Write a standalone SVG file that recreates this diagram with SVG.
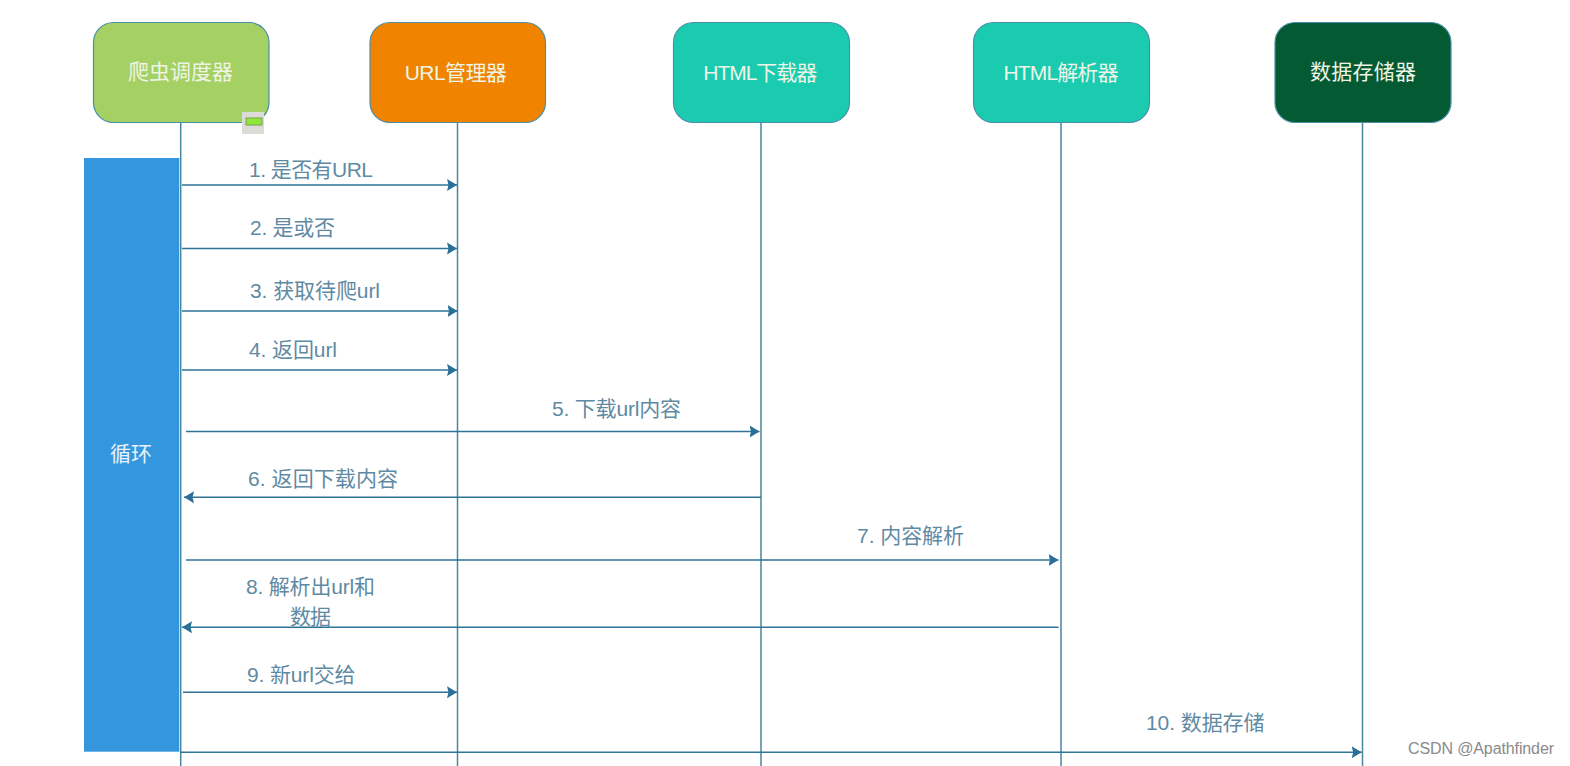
<svg xmlns="http://www.w3.org/2000/svg" width="1570" height="766" viewBox="0 0 1570 766">
<style>
text{font-family:"Liberation Sans","Noto Sans CJK SC",sans-serif}
.n{stroke:#4a8fa8;stroke-width:1.2}
.nt{fill:#eef5e6;font-size:21px;text-anchor:middle}
.life{stroke:#4a879f;stroke-width:1.5;fill:none}
.msg{stroke:#2f7396;stroke-width:1.5;fill:none;marker-end:url(#arr)}
.ml{fill:#5f8aa3;font-size:21px}
</style>
<defs><marker id="arr" markerUnits="userSpaceOnUse" markerWidth="11" markerHeight="14" refX="10" refY="7" orient="auto"><path d="M0 1L10 7L0 13L1.500 7Z" fill="#2a6f96"/></marker></defs>
<rect width="1570" height="766" fill="#fff"/>
<g id="connectors">
<path class="life" d="M180.700 122V766M457.500 122V766M761 122V766M1061 122V766M1362.500 122V766"/>
<path class="msg" d="M182 185H457"/>
<path class="msg" d="M182 248.500H457"/>
<path class="msg" d="M182 311H457.500"/>
<path class="msg" d="M182 370H457"/>
<path class="msg" d="M186 431.500H759.500"/>
<path class="msg" d="M761 497.300H184"/>
<path class="msg" d="M186 560H1058.500"/>
<path class="msg" d="M1058.500 627.300H182"/>
<path class="msg" d="M183 692.300H457"/>
<path class="msg" d="M180 752.300H1361.700"/>
</g>
<g id="loop"><rect x="84" y="158" width="95.300" height="593.700" fill="#3497dd"/><text x="131" y="461" text-anchor="middle" fill="#e8f2fa" font-size="21">循环</text></g>
<g id="n1"><rect class="n" x="93.500" y="22.500" width="175.500" height="100" rx="20" fill="#a5d063"/><text class="nt" x="180.500" y="79" textLength="105">爬虫调度器</text>
<rect x="242" y="112" width="22" height="22" fill="#dcdcd6"/><rect x="246" y="118" width="16" height="7" fill="#8ee83a" stroke="#7a9a50"/></g>
<g id="n2"><rect class="n" x="370" y="22.500" width="175.500" height="100" rx="20" fill="#f08300"/><text class="nt" x="455.800" y="80" textLength="102">URL管理器</text></g>
<g id="n3"><rect class="n" x="673.500" y="22.500" width="176" height="100" rx="20" fill="#1bcbb0"/><text class="nt" x="760.300" y="80" textLength="114">HTML下载器</text></g>
<g id="n4"><rect class="n" x="973.500" y="22.500" width="176" height="100" rx="20" fill="#1bcbb0"/><text class="nt" x="1061" y="80" textLength="115">HTML解析器</text></g>
<g id="n5"><rect class="n" x="1275" y="22.500" width="176" height="100" rx="20" fill="#045a32"/><text class="nt" x="1363" y="79" textLength="106">数据存储器</text></g>
<g id="labels">
<text class="ml" x="249" y="177" textLength="124">1. 是否有URL</text>
<text class="ml" x="250" y="235" textLength="85">2. 是或否</text>
<text class="ml" x="250" y="298" textLength="130">3. 获取待爬url</text>
<text class="ml" x="249" y="357" textLength="88">4. 返回url</text>
<text class="ml" x="552" y="416" textLength="129">5. 下载url内容</text>
<text class="ml" x="248" y="486" textLength="150">6. 返回下载内容</text>
<text class="ml" x="857" y="543" textLength="107">7. 内容解析</text>
<text class="ml" x="246" y="594" textLength="129">8. 解析出url和</text>
<text class="ml" x="290" y="624" textLength="41">数据</text>
<text class="ml" x="247" y="682" textLength="108.500">9. 新url交给</text>
<text class="ml" x="1146" y="730" textLength="118.500">10. 数据存储</text>
<text x="1408" y="754" font-size="16" fill="#8a8a8a" textLength="146">CSDN @Apathfinder</text>
</g>
</svg>
